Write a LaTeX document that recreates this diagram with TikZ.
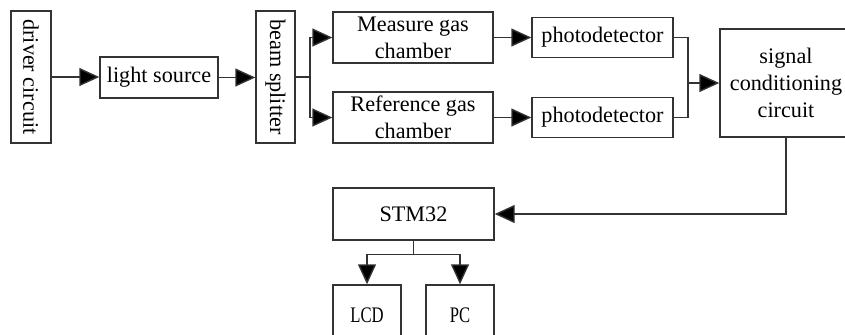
\documentclass[tikz,border=0pt]{standalone}
\usepackage{fontspec}
\setmainfont{Liberation Serif}
\newfontfamily\narrowfont[FakeStretch=0.75]{Liberation Serif}
\usepackage{tikz}
\usetikzlibrary{positioning, arrows.meta}
\tikzset{
  blk/.style={draw=black!80, line width=0.7pt, align=center, inner sep=0pt,
    font=\fontsize{11.1}{13.6}\selectfont},
  arr/.style={draw=black!80, line width=0.7pt, -{Triangle[length=10pt,width=9pt,fill=black]}},
  wire/.style={draw=black!80, line width=0.7pt}
}

\begin{document}
\begin{tikzpicture}[x=0.5pt,y=-0.5pt]
\useasboundingbox (0,0) rectangle (845,334);
\clip (0,0) rectangle (845,334);
% top row
\node[blk, minimum width=20pt, minimum height=66pt] (driver) at (31,77) {\rotatebox{-90}{driver circuit}};
\node[blk, minimum width=59pt, minimum height=20.5pt] (light) at (159,77.5) {light source};
\node[blk, minimum width=19.5pt, minimum height=66pt] (beam) at (275.5,77) {\rotatebox{-90}{beam splitter}};
\node[blk, minimum width=80pt, minimum height=25.5pt] (measure) at (413,37.5) {Measure gas\\chamber};
\node[blk, minimum width=80pt, minimum height=25.5pt] (reference) at (413,117.5) {Reference gas\\chamber};
\node[blk, minimum width=70.5pt, minimum height=20pt] (pdA) at (602.5,37.5) {photodetector};
\node[blk, minimum width=70.5pt, minimum height=20pt] (pdB) at (602.5,117.5) {photodetector};
\node[blk, minimum width=66pt, minimum height=54pt] (signal) at (786,83) {signal\\conditioning\\circuit};
% bottom part
\node[blk, minimum width=80.5pt, minimum height=26pt] (stm) at (413.5,214) {STM32};
\node[blk, minimum width=34pt, minimum height=30pt, font=\narrowfont\fontsize{11.1}{13.6}\selectfont] (lcd) at (367,315) {LCD};
\node[blk, minimum width=34pt, minimum height=30pt, font=\narrowfont\fontsize{11.1}{13.6}\selectfont] (pc) at (460,315) {PC};

\draw[arr] (driver.east) -- (driver.east -| light.west);
\draw[arr] (light.east) -- (light.east -| beam.west);
\coordinate (split) at (310,77);
\draw[wire] (beam.east) -- (split);
\draw[arr] (split) |- (measure.west);
\draw[arr] (split) |- (reference.west);
\draw[arr] (measure) -- (pdA);
\draw[arr] (reference) -- (pdB);
\coordinate (join) at (688,83);
\draw[wire] (pdA.east) -| (join);
\draw[wire] (pdB.east) -| (join);
\draw[arr] (join) -- (signal.west);
\draw[arr] (signal.south) |- (stm.east);
\draw[wire] (stm.south) -- ++(0,14) coordinate (fork);
\draw[arr] (fork) -| (lcd.north);
\draw[arr] (fork) -| (pc.north);
\end{tikzpicture}
\end{document}
